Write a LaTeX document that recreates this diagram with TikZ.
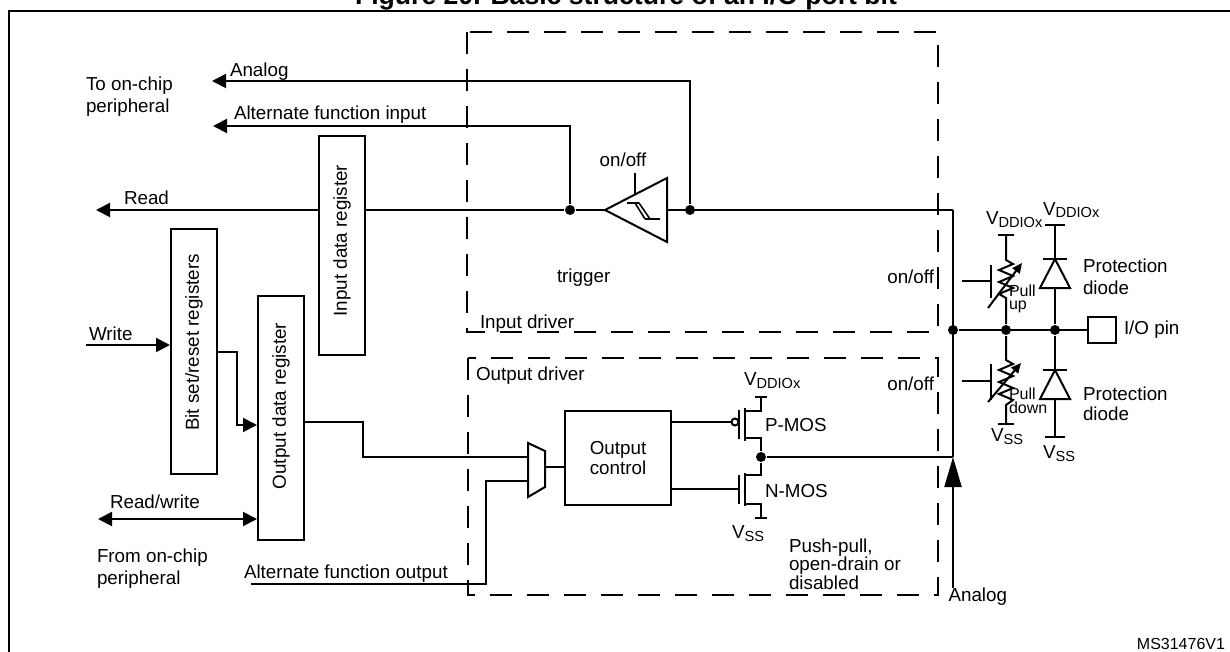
\documentclass[tikz,border=0pt]{standalone}
\usepackage{fontspec}
\setmainfont{Liberation Sans}
\usepackage{tikz}
\usetikzlibrary{arrows.meta, positioning}
\newcommand{\vsub}[1]{\raisebox{-1.5pt}{\fontsize{7.3pt}{8pt}\selectfont #1}}

\begin{document}
\begin{tikzpicture}[x=0.5pt, y=-0.5pt,
    >={Triangle[length=7pt, width=7pt]},
    line width=1pt,
    txt/.style={inner sep=0pt, font=\fontsize{9.4pt}{11pt}\selectfont},
    reg/.style={draw, fill=white, inner sep=0pt, minimum width=23pt, font=\fontsize{9.4pt}{11pt}\selectfont},
    drv/.style={line width=1.2pt, dash pattern=on 11pt off 7.5pt},
    dot/.style={circle, fill, inner sep=0pt, minimum size=5pt},
    bar/.style={line width=1.3pt}]

    \useasboundingbox (0,0) rectangle (1230,652);
    \clip (0,0) rectangle (1230,652);
    \draw[line width=1.3pt] (9,11) rectangle (1260,680);
    \node[anchor=base, inner sep=0pt, font=\bfseries\fontsize{13.3pt}{14pt}\selectfont] (title) at (626,5) {Figure 20. Basic structure of an I/O port bit};

    % driver frames
    \draw[drv] (467,32) rectangle (938,332);
    \draw[drv] (468,358) rectangle (938,595);
    \node[txt, anchor=base west] (indrv) at (479,328.5) {Input driver};
    \node[txt, anchor=base west] (outdrv) at (475,380) {Output driver};
    \node[txt, anchor=base east] (inoo) at (935,283) {on/off};
    \node[txt, anchor=base east] (outoo) at (935,390) {on/off};

    % trigger
    \coordinate (trin) at (605,210);
    \coordinate (trout) at (667,210);
    \draw (trin) -- (667,178) -- (667,242) -- cycle;
    \draw[line width=0.8pt] (627,203) -- (639,203) (635,203) -- (645,219) (639,203) -- (650,219) (645,219) -- (660,219);
    \draw (635,173) -- (635,195);
    \node[txt, anchor=base] (troo) at (623,166.5) {on/off};
    \node[txt, anchor=base west] (trlab) at (556,282) {trigger};

    % input side
    \node[dot] (jan) at (690,210) {};
    \node[dot] (jaf) at (570,210) {};
    \coordinate (pinc) at (953,210);
    \coordinate (pinb) at (953,457);
    \coordinate (anout) at (212,81);
    \coordinate (afiout) at (213,126);
    \coordinate (rdout) at (96,210);
    \draw (pinc) -- (trout);
    \draw[->] (jan) |- (anout);
    \draw (trin) -- (jaf);
    \draw[->] (jaf) -- (rdout);
    \draw[->] (jaf) |- (afiout);
    \node[txt, anchor=base west] (anlab) at (229,76.5) {Analog};
    \node[txt, anchor=base west] (afilab) at (233,120) {Alternate function input};
    \node[txt, anchor=base west] (rdlab) at (123,205) {Read};
    \node[txt, anchor=north west, align=left] (tochip) at (85,76) {To on-chip\\peripheral};

    % registers
    \node[reg, minimum height=109.5pt] (idr) at (342,245.5) {\raisebox{5pt}{\rotatebox{90}{Input data register}}};
    \node[reg, minimum height=122.5pt] (bsr) at (194,351.5) {\raisebox{9pt}{\rotatebox{90}{Bit set/reset registers}}};
    \node[reg, minimum height=122pt] (odr) at (281,418) {\raisebox{12pt}{\rotatebox{90}{Output data register}}};

    \coordinate (wrin) at (86,345);
    \coordinate (rwend) at (98,519);
    \coordinate (afoin) at (251,584);
    \draw[->] (wrin) -- (wrin -| bsr.west);
    \draw[->] (bsr.east |- 0,352) -| (237,425) -- (odr.west |- 0,425);
    \draw[<->] (rwend) -- (rwend -| odr.west);
    \node[txt, anchor=base west] (wrlab) at (88,340) {Write};
    \node[txt, anchor=base west] (rwlab) at (109,508) {Read/write};
    \node[txt, anchor=north west, align=left] (fromchip) at (96,548) {From on-chip\\peripheral};
    \node[txt, anchor=base west] (afolab) at (243,578.5) {Alternate function output};

    % multiplexer and output control
    \coordinate (muxa) at (528,457);
    \coordinate (muxb) at (528,481);
    \coordinate (muxo) at (545,467);
    \draw (528,443) -- (545,451) -- (545,487) -- (528,497) -- cycle;
    \node[draw, inner sep=0pt, minimum width=53pt, minimum height=47pt, align=center, font=\fontsize{9.4pt}{10pt}\selectfont] (ctl) at (618,458) {Output\\control};
    \draw (odr.east |- 0,422) -| (363,457) -- (muxa);
    \draw (afoin) -| (486,481) -- (muxb);
    \draw (muxo) -- (muxo -| ctl.west);

    % P-MOS / N-MOS
    \node[dot] (jmos) at (761,457) {};
    \coordinate (vddp) at (761,397);
    \coordinate (vssn) at (761,518);
    \draw (ctl.east |- 0,422) -- (731.5,422);
    \draw (735,422) circle[radius=1.75pt];
    \draw (739,410) -- (739,439);
    \draw (745,408) -- (745,441);
    \draw (vddp) -- (761,411) -- (745,411);
    \draw (745,438) -- (761,438) -- (jmos);
    \draw (jmos) -- (761,475) -- (745,475);
    \draw (745,473) -- (745,506);
    \draw (739,475) -- (739,504);
    \draw (ctl.east |- 0,489) -- (739,489);
    \draw (745,504) -- (761,504) -- (vssn);
    \draw[bar] (755,397) -- (767,397);
    \draw[bar] (755,518) -- (767,518);
    \node[txt, anchor=base west] (vddplab) at (743,385) {V\vsub{DDIOx}};
    \node[txt, anchor=base west] (pmos) at (764,431) {P-MOS};
    \node[txt, anchor=base west] (nmos) at (764,497) {N-MOS};
    \node[txt, anchor=base west] (vssnlab) at (731,538) {V\vsub{SS}};
    \node[txt, anchor=north west, align=left, font=\fontsize{9.4pt}{9.3pt}\selectfont] (mode) at (788,537.5) {Push-pull,\\open-drain or\\disabled};

    % pin node
    \node[dot] (jpin) at (953,330) {};
    \node[dot] (jpu) at (1006,330) {};
    \node[dot] (jdi) at (1055,330) {};
    \node[draw, inner sep=0pt, minimum width=14pt, minimum height=13pt] (pin) at (1102,330) {};
    \node[txt, right=3pt of pin] (pinlab) {I/O pin};
    \draw (pinc) -- (pinb);
    \draw (jmos) -- (pinb);
    \draw (jpin) -- (pin);
    \coordinate (anin) at (953,588);
    \draw[-{Triangle[length=15pt, width=8.5pt]}] (anin) -- (pinb);
    \node[txt, anchor=base west] (anlab2) at (947.5,601) {Analog};

    % pull-up / pull-down
    \coordinate (puvdd) at (1006,235);
    \coordinate (pdvss) at (1006,424);
    \draw (puvdd) -- (1006,260) -- (1013,264) -- (999,270) -- (1013,276) -- (999,282) -- (1013,288) -- (999,294) -- (1006,298) -- (jpu);
    \draw (962,281) -- (991,281) (991,265) -- (991,298);
    \draw[-{Triangle[length=5pt, width=4.5pt]}] (988,308) -- (1022,263);
    \draw (jpu) -- (1006,360) -- (1013,364) -- (999,370) -- (1013,376) -- (999,382) -- (1013,388) -- (999,394) -- (1013,400) -- (1006,405) -- (pdvss);
    \draw (962,381) -- (991,381) (991,364) -- (991,400);
    \draw[-{Triangle[length=5pt, width=4.5pt]}] (988,402) -- (1021,363);
    \draw[bar] (998,235) -- (1014,235);
    \draw[bar] (998,424) -- (1014,424);
    \node[txt, anchor=base west] (vddpu) at (985,225) {V\vsub{DDIOx}};
    \node[txt, anchor=base west] (vsspd) at (990,441.5) {V\vsub{SS}};
    \node[inner sep=0pt, anchor=north west, align=left, font=\fontsize{8pt}{6.5pt}\selectfont] (pulab) at (1008,284) {Pull\\up};
    \node[inner sep=0pt, anchor=north west, align=left, font=\fontsize{8pt}{7pt}\selectfont] (pdlab) at (1008,387) {Pull\\down};

    % protection diodes
    \coordinate (dvdd) at (1055,225);
    \coordinate (dvss) at (1055,437);
    \draw (dvdd) -- (jdi);
    \draw (jdi) -- (dvss);
    \draw[fill=white] (1055,259) -- (1040,288) -- (1070,288) -- cycle;
    \draw[fill=white] (1055,370) -- (1040,399) -- (1070,399) -- cycle;
    \draw (1043,259) -- (1067,259);
    \draw (1043,370) -- (1067,370);
    \draw[bar] (1045,225) -- (1065,225);
    \draw[bar] (1045,437) -- (1065,437);
    \node[txt, anchor=base west] (vdddi) at (1042,215) {V\vsub{DDIOx}};
    \node[txt, anchor=base west] (vssdi) at (1042,458) {V\vsub{SS}};
    \node[txt, anchor=north west, align=left] (prot1) at (1082,257.5) {Protection\\diode};
    \node[txt, anchor=north west, align=left, font=\fontsize{9.4pt}{10pt}\selectfont] (prot2) at (1082,385.5) {Protection\\diode};

    \node[anchor=base east, inner sep=0pt, font=\fontsize{8pt}{9pt}\selectfont] (code) at (1226,649) {MS31476V1};
\end{tikzpicture}
\end{document}
